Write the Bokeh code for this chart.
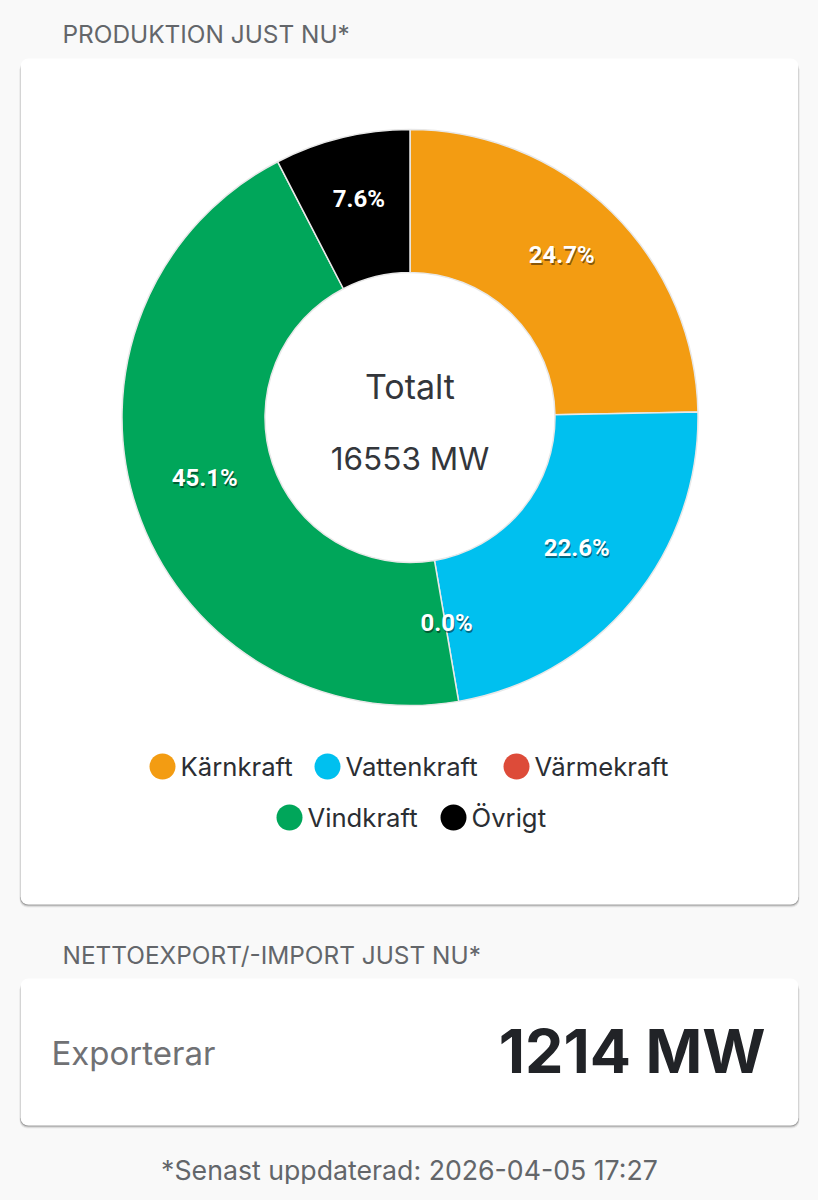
import numpy as np
from bokeh.core.properties import value
from bokeh.embed import file_html
from bokeh.models import Range1d
from bokeh.plotting import figure
from bokeh.resources import INLINE

# chart data
categories = ["Kärnkraft", "Vattenkraft", "Värmekraft", "Vindkraft", "Övrigt"]
shares = [24.7, 22.6, 0.0, 45.1, 7.6]
colors = ["#f39c12", "#00c0ef", "#dd4b39", "#00a65a", "#000000"]
total_label = "16553 MW"
net_label = "1214 MW"
updated = "*Senast uppdaterad: 2026-04-05 17:27"

# layout, page pixels
H = 1200
CX, CY = 409.5, 417
R_OUT, R_IN = 288, 145
LEGEND_ROW = [0, 0, 0, 1, 1]
LEGEND_Y = [766, 817]
LEGEND_DOT_X = [162, 327, 516, 289, 453]
LEGEND_TEXT_X = [180, 345, 534, 307, 471]
FONT = value("Inter")


def Y(v):
    # page pixels run downwards, the plot upwards
    return H - v


p = figure(width=802, height=1184, output_backend="svg", toolbar_location=None,
           x_range=Range1d(0, 802), y_range=Range1d(16, 1200),
           background_fill_color="#f9f9f9", border_fill_color="#f9f9f9",
           min_border=0, outline_line_color=None, tools="")
p.axis.visible = False
p.grid.visible = False

# cards with shadow
for top, bottom in [(58, 904), (978, 1125)]:
    for off, alpha in [(3, 0.06), (2, 0.12), (1, 0.22)]:
        p.quad(left=20 - off / 3, right=798 + off / 3, top=Y(top + 3), bottom=Y(bottom + off),
               fill_color="#000000", fill_alpha=alpha, line_color=None, border_radius=8)
    p.quad(left=20, right=798, top=Y(top), bottom=Y(bottom),
           fill_color="#ffffff", line_color=None, border_radius=8)

# donut, a wedge without extent would come out as a full ring so it is left out
frac = np.array(shares) / sum(shares)
ends = np.cumsum(frac)
starts = ends - frac
start_angle = np.pi / 2 - 2 * np.pi * starts
end_angle = np.pi / 2 - 2 * np.pi * ends
drawn = frac > 0
p.annular_wedge(x=CX, y=Y(CY), inner_radius=R_IN, outer_radius=R_OUT,
                start_angle=start_angle[drawn], end_angle=end_angle[drawn], direction="clock",
                fill_color=[c for c, d in zip(colors, drawn) if d],
                line_color="#e8e8e8", line_width=1.5)

# percent labels, the dark copy stands in for the text shadow
mid = (starts + ends) / 2 * 2 * np.pi
lab_x = CX + (R_OUT + R_IN) / 2 * np.sin(mid)
lab_y = Y(CY) + (R_OUT + R_IN) / 2 * np.cos(mid)
lab_txt = [f"{v:.1f}%" for v in shares]
p.text(x=lab_x, y=lab_y, text=lab_txt, x_offset=1, y_offset=-6, text_align="center",
       text_baseline="middle", text_font=value("Roboto"), text_font_style="bold",
       text_font_size="24px", text_color="#000000", text_alpha=0.45)
p.text(x=lab_x, y=lab_y, text=lab_txt, x_offset=0, y_offset=-8, text_align="center",
       text_baseline="middle", text_font=value("Roboto"), text_font_style="bold",
       text_font_size="24px", text_color="#ffffff")

# centre text
p.text(x=[CX], y=[Y(386)], text=["Totalt"], text_align="center", text_baseline="middle",
       text_font=FONT, text_font_size="34px", text_color="#33363b")
p.text(x=[CX], y=[Y(458)], text=[total_label], text_align="center", text_baseline="middle",
       text_font=FONT, text_font_size="31.5px", text_color="#33363b")

# legend
p.scatter(x=LEGEND_DOT_X, y=[Y(LEGEND_Y[r]) for r in LEGEND_ROW], size=26, marker="circle",
          fill_color=colors, line_color=None)
p.text(x=LEGEND_TEXT_X, y=[Y(LEGEND_Y[r]) for r in LEGEND_ROW], text=categories,
       text_baseline="middle", text_font=FONT, text_font_size="25.7px", text_color="#2b2e33")

# headings and the net card
p.text(x=[62], y=[Y(33)], text=["PRODUKTION JUST NU*"], text_baseline="middle",
       text_font=FONT, text_font_size="24.4px", text_color="#63666a")
p.text(x=[62], y=[Y(954)], text=["NETTOEXPORT/-IMPORT JUST NU*"], text_baseline="middle",
       text_font=FONT, text_font_size="24.4px", text_color="#63666a")
p.text(x=[51], y=[Y(1052)], text=["Exporterar"], text_baseline="middle",
       text_font=FONT, text_font_size="33px", text_color="#707174")
p.text(x=[765], y=[Y(1050)], text=[net_label], text_align="right", text_baseline="middle",
       text_font=FONT, text_font_style="bold", text_font_size="61px", text_color="#212327")
p.text(x=[409], y=[Y(1169)], text=[updated], text_align="center", text_baseline="middle",
       text_font=FONT, text_font_size="26.7px", text_color="#63666a")

html = file_html(p, INLINE).replace("<body>", '<body style="background:#f9f9f9">')
open("out.html", "w").write(html)
